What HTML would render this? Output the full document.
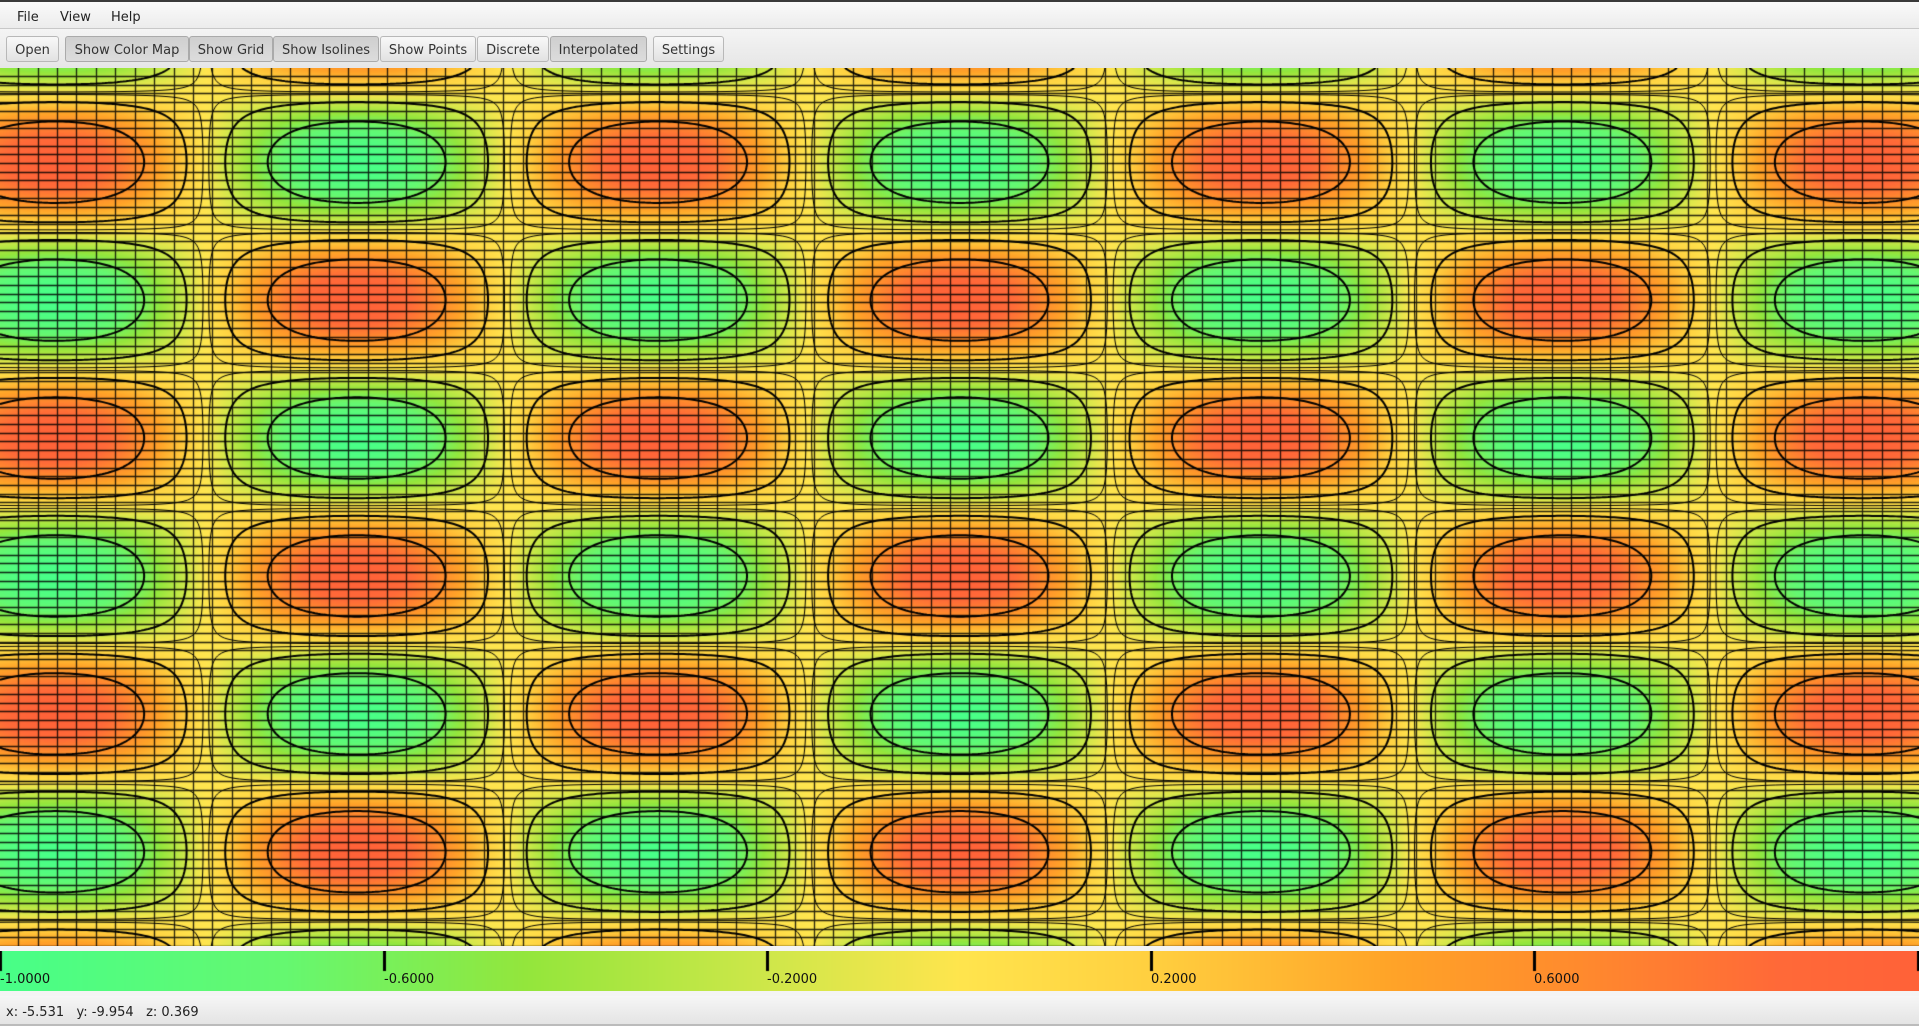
<!DOCTYPE html>
<html><head><meta charset="utf-8">
<style>
html,body{margin:0;padding:0;width:1919px;height:1026px;overflow:hidden;background:#f4f4f4;font-family:"DejaVu Sans","Liberation Sans",sans-serif;font-size:13px;color:#222}
#menubar{position:absolute;left:0;top:0;width:1919px;height:29px;background:linear-gradient(#fafafa,#ececec);border-top:2px solid #3a3a3a;box-sizing:border-box;border-bottom:1px solid #c8c8c8}
.menu{position:absolute;top:8px}
#toolbar{position:absolute;left:0;top:29px;width:1919px;height:39px;background:linear-gradient(#f4f4f4,#e6e6e6)}
.btn{position:absolute;top:36px;height:26px;box-sizing:border-box;border:1px solid #b8b8b8;border-radius:3px;background:linear-gradient(#f8f8f8,#e2e2e2);text-align:center;line-height:24px;padding-top:2px;color:#333}
.btn.on{background:linear-gradient(#cfcfcf,#dcdcdc);border-color:#aaa}
#plot{position:absolute;left:0;top:68px}
#cbar{position:absolute;left:0;top:951px}
.tl{position:absolute;top:972px;font-size:13px;color:#111}
#status{position:absolute;left:0;top:996px;width:1919px;height:30px;background:linear-gradient(#f6f6f6,#e4e4e4);border-bottom:2px solid #bbb;box-sizing:border-box}
</style></head><body>
<div id="menubar">
<span class="menu" style="left:17px">File</span>
<span class="menu" style="left:60px">View</span>
<span class="menu" style="left:111px">Help</span>
</div>
<div id="toolbar"></div>
<div class="btn" style="left:6px;width:53px">Open</div>
<div class="btn on" style="left:65px;width:124px">Show Color Map</div>
<div class="btn on" style="left:189px;width:84px">Show Grid</div>
<div class="btn on" style="left:273px;width:106px">Show Isolines</div>
<div class="btn" style="left:380px;width:96px">Show Points</div>
<div class="btn" style="left:477px;width:72px">Discrete</div>
<div class="btn on" style="left:550px;width:97px">Interpolated</div>
<div class="btn" style="left:653px;width:71px">Settings</div>

<canvas id="plot" width="1919" height="878"></canvas>
<canvas id="cbar" width="1919" height="40"></canvas>
<div id="cbLabels"></div>
<div id="status">
<span style="position:absolute;left:6px;top:9px">x: -5.531&nbsp;&nbsp; y: -9.954&nbsp;&nbsp; z: 0.369</span>
</div>
<script>
// ---- data ----
const xDomain = [-10, 10];
const yDomain = [10, -10];
const amplitude = 1;
const waveK = [1, 1];
const isoLevels = [-0.6, -0.2, 0.6, 0.2];
const thinLevels = [-0.03, 0.03];
const gridXStart = -9.81, gridXStep = 0.2023, gridXCount = 99;
const gridYStart = 9.817, gridYStep = 0.1982, gridYCount = 101;
const stopValues = [-1, -0.7, -0.45, -0.2, 0, 0.2, 0.45, 0.65, 0.85, 1];
const stopColors = ["#48ff88","#66f870","#94e63c","#cfe84a","#ffe54e","#ffd040","#ffa428","#ff8a2e","#ff6a38","#ff6238"];
const tickValues = [-1, -0.6, -0.2, 0.2, 0.6, 1];
const tickLabels = ["-1.0000","-0.6000","-0.2000","0.2000","0.6000","1.0000"];

const W = 1919, H = 878;
const sx = v => (v - xDomain[0]) / (xDomain[1] - xDomain[0]) * W;
const sy = v => (v - yDomain[0]) / (yDomain[1] - yDomain[0]) * H;
const ix = p => xDomain[0] + p / W * (xDomain[1] - xDomain[0]);
const iy = p => yDomain[0] + p / H * (yDomain[1] - yDomain[0]);
const field = (x, y) => -amplitude * Math.cos(waveK[0] * x) * Math.sin(waveK[1] * y);

const rgb = stopColors.map(h => [parseInt(h.slice(1,3),16),parseInt(h.slice(3,5),16),parseInt(h.slice(5,7),16)]);
function cmap(v){
  v = Math.max(-1, Math.min(1, v));
  for (let i = 0; i < stopValues.length - 1; i++) {
    if (v <= stopValues[i+1]) {
      const t = (v - stopValues[i]) / (stopValues[i+1] - stopValues[i]);
      return [0,1,2].map(k => rgb[i][k] + (rgb[i+1][k] - rgb[i][k]) * t);
    }
  }
  return rgb[rgb.length-1];
}

// heatmap
const c = document.getElementById('plot'), g = c.getContext('2d');
const img = g.createImageData(W, H);
for (let py = 0; py < H; py++) {
  const y = iy(py + 0.5);
  for (let px = 0; px < W; px++) {
    const col = cmap(field(ix(px + 0.5), y));
    const o = (py * W + px) * 4;
    img.data[o] = col[0]; img.data[o+1] = col[1]; img.data[o+2] = col[2]; img.data[o+3] = 255;
  }
}
g.putImageData(img, 0, 0);

// grid
g.strokeStyle = 'rgba(0,0,0,0.85)'; g.lineWidth = 1.3;
g.beginPath();
for (let i = 0; i < gridXCount; i++) { const p = Math.round(sx(gridXStart + i * gridXStep)) + 0.5; g.moveTo(p, 0); g.lineTo(p, H); }
for (let j = 0; j < gridYCount; j++) { const p = Math.round(sy(gridYStart - j * gridYStep)) + 0.5; g.moveTo(0, p); g.lineTo(W, p); }
g.stroke();

// contours via marching squares
function contour(level, lw){
  const s = 3, nx = Math.ceil(W / s) + 1, ny = Math.ceil(H / s) + 1;
  const v = [];
  for (let j = 0; j < ny; j++) { v[j] = []; for (let i = 0; i < nx; i++) v[j][i] = field(ix(i*s), iy(j*s)) - level; }
  g.beginPath(); g.lineWidth = lw; g.strokeStyle = '#000';
  const lerp = (a, b) => a / (a - b);
  for (let j = 0; j < ny - 1; j++) for (let i = 0; i < nx - 1; i++) {
    const a = v[j][i], b = v[j][i+1], cc = v[j+1][i+1], d = v[j+1][i];
    const pts = [];
    if ((a > 0) !== (b > 0)) pts.push([(i + lerp(a,b)) * s, j * s]);
    if ((b > 0) !== (cc > 0)) pts.push([(i+1) * s, (j + lerp(b,cc)) * s]);
    if ((d > 0) !== (cc > 0)) pts.push([(i + lerp(d,cc)) * s, (j+1) * s]);
    if ((a > 0) !== (d > 0)) pts.push([i * s, (j + lerp(a,d)) * s]);
    for (let k = 0; k + 1 < pts.length; k += 2) { g.moveTo(pts[k][0], pts[k][1]); g.lineTo(pts[k+1][0], pts[k+1][1]); }
  }
  g.stroke();
}
isoLevels.forEach(l => contour(l, 2));
thinLevels.forEach(l => contour(l, 1));

// colorbar
const cb = document.getElementById('cbar'), cg = cb.getContext('2d');
for (let px = 0; px < W; px++) {
  const col = cmap(-1 + 2 * px / (W - 1));
  cg.fillStyle = `rgb(${col[0]|0},${col[1]|0},${col[2]|0})`;
  cg.fillRect(px, 0, 1, 40);
}
const tx = v => (v + 1) / 2 * (W - 1);
cg.fillStyle = '#000';
tickValues.forEach(v => cg.fillRect(Math.round(tx(v)) - 1, 0, 3, 20));
const lab = document.getElementById('cbLabels');
tickValues.forEach((v, i) => {
  const el = document.createElement('div');
  el.className = 'tl';
  el.style.left = Math.round(tx(v)) + 'px';
  el.textContent = tickLabels[i];
  
  
  lab.appendChild(el);
});
</script>
</body></html>
